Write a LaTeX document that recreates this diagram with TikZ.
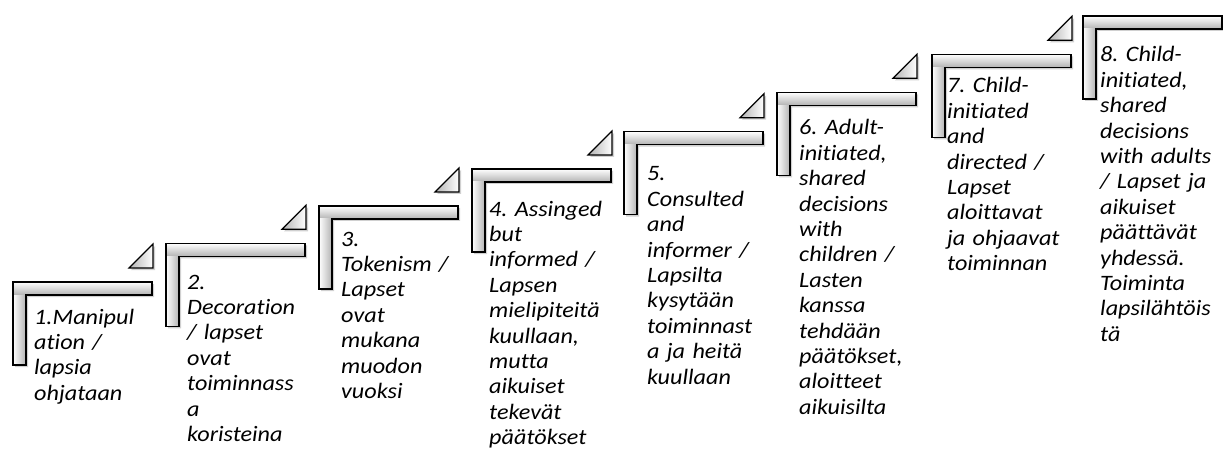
\documentclass[tikz,border=0pt]{standalone}
\usepackage{fontspec}
\setmainfont{Carlito}[FakeStretch=1.1, Ligatures={NoCommon}]
\usetikzlibrary{shadows}
\frenchspacing
\tikzset{
  steptext/.style={anchor=base west, align=left, inner sep=0pt,
    font=\fontsize{22}{25.4}\selectfont\itshape, text width=140pt},
  outline/.style={draw=black, line width=1.2pt, line join=miter},
  shadowed/.style={fill=white, drop shadow={shadow xshift=2pt, shadow yshift=-2pt, opacity=0.3, fill=black!60}},
  hbar/.style={top color=white, bottom color=black!30},
  vbar/.style={left color=white, right color=black!30},
  tri/.style={left color=black!30, right color=white},
}
\begin{document}
\begin{tikzpicture}[x=1pt, y=-1pt]
\useasboundingbox (0,0) rectangle (1223,449);
\fill[white] (0,0) rectangle (1223,449);
% L-shaped steps
\foreach \L/\T [count=\i] in {13/282, 166/243.3, 319/206, 472/169, 624/131.7, 777/92.3, 932/54.3, 1083/16}{
  \path[shadowed] (\L,\T) -- (\L+139,\T) -- (\L+139,\T+13) -- (\L+13,\T+13) -- (\L+13,\T+83) -- (\L,\T+83) -- cycle;
  \shade[hbar] (\L,\T) rectangle (\L+139,\T+13);
  \shade[vbar] (\L,\T+13) rectangle (\L+13,\T+83);
  \path[outline] (\L,\T) -- (\L+139,\T) -- (\L+139,\T+13) -- (\L+13,\T+13) -- (\L+13,\T+83) -- (\L,\T+83) -- cycle;
}
% triangles
\foreach \L/\T in {13/282, 166/243.3, 319/206, 472/169, 624/131.7, 777/92.3, 932/54.3}{
  \path[shadowed] (\L+116,\T-14) -- (\L+140,\T-14) -- (\L+140,\T-38) -- cycle;
  \shade[tri] (\L+116,\T-14) -- (\L+140,\T-14) -- (\L+140,\T-38) -- cycle;
  \path[outline] (\L+116,\T-14) -- (\L+140,\T-14) -- (\L+140,\T-38) -- cycle;
}
% texts
\node[steptext] (t1) at (34,324) {1.Manipul\\ation /\\lapsia\\ohjataan};
\node[steptext] (t2) at (187,289) {2.\\Decoration\\/ lapset\\ovat\\toiminnass\\a\\koristeina};
\node[steptext] (t3) at (341,246) {3.\\Tokenism /\\Lapset\\ovat\\mukana\\muodon\\vuoksi};
\node[steptext] (t4) at (489,216) {4. Assinged\\but\\informed /\\Lapsen\\mielipiteitä\\kuullaan,\\mutta\\aikuiset\\tekevät\\päätökset};
\node[steptext] (t5) at (647,181) {5.\\Consulted\\and\\informer /\\Lapsilta\\kysytään\\toiminnast\\a ja heitä\\kuullaan};
\node[steptext] (t6) at (799,135) {6. Adult-\\initiated,\\shared\\decisions\\with\\children /\\Lasten\\kanssa\\tehdään\\päätökset,\\aloitteet\\aikuisilta};
\node[steptext] (t7) at (947,93) {7. Child-\\initiated\\and\\directed /\\Lapset\\aloittavat\\ja ohjaavat\\toiminnan};
\node[steptext] (t8) at (1100,62) {8. Child-\\initiated,\\shared\\decisions\\with adults\\/ Lapset ja\\aikuiset\\päättävät\\yhdessä.\\Toiminta\\lapsilähtöis\\tä};
\end{tikzpicture}
\end{document}
